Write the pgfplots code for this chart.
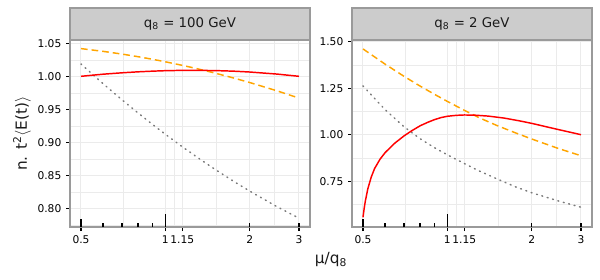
\documentclass[border=0pt]{standalone}
\usepackage{pgfplots}
\pgfplotsset{compat=1.18}
\usepackage{pgfplotstable}
\usepackage{fontspec}
\setmainfont{DejaVu Sans}
\definecolor{gridc}{HTML}{EBEBEB}
\definecolor{borderc}{HTML}{9A9A9A}
\definecolor{stripc}{HTML}{CCCCCC}
\definecolor{txtc}{HTML}{1A1A1A}
\definecolor{orangec}{HTML}{FFA500}
\definecolor{redc}{HTML}{FF0000}
\definecolor{grayc}{HTML}{7A7A7A}

\pgfplotstableread{
mu red orange gray
0.50 1.0000 1.0420 1.0186
0.60 1.0032 1.0378 0.9887
0.70 1.0053 1.0337 0.9645
0.80 1.0068 1.0297 0.9443
0.90 1.0078 1.0258 0.9271
1.00 1.0085 1.0220 0.9122
1.15 1.0090 1.0166 0.8932
1.30 1.0090 1.0115 0.8773
1.50 1.0087 1.0050 0.8594
1.75 1.0078 0.9975 0.8411
2.00 1.0065 0.9906 0.8261
2.50 1.0034 0.9781 0.8026
3.00 1.0000 0.9670 0.7850
}\leftdata

\pgfplotstableread{
mu orange gray
0.50 1.461 1.262
0.60 1.379 1.134
0.70 1.314 1.043
0.80 1.261 0.978
0.90 1.217 0.930
1.00 1.179 0.892
1.15 1.131 0.845
1.30 1.091 0.805
1.50 1.050 0.763
1.75 1.010 0.720
2.00 0.977 0.688
2.50 0.925 0.643
3.00 0.887 0.610
}\rightdata

\pgfplotstableread{
mu red
0.500 0.556
0.505 0.605
0.510 0.645
0.520 0.708
0.535 0.772
0.550 0.818
0.575 0.868
0.600 0.904
0.650 0.955
0.700 0.993
0.750 1.023
0.800 1.048
0.850 1.066
0.900 1.081
0.950 1.092
1.000 1.099
1.075 1.104
1.150 1.106
1.250 1.105
1.400 1.100
1.600 1.089
1.800 1.075
2.000 1.061
2.250 1.043
2.500 1.027
2.750 1.013
3.000 1.000
}\rightred

\newcommand{\rugtick}[3]{%
  \draw[black,line width=1.1pt] (axis cs:#1,#2) -- ([yshift=#3]axis cs:#1,#2);
}
\newcommand{\rug}[1]{%
  \rugtick{0.5}{#1}{6.3pt}
  \rugtick{1}{#1}{9.5pt}
  \rugtick{0.6}{#1}{3.2pt}
  \rugtick{0.7}{#1}{3.2pt}
  \rugtick{0.8}{#1}{3.2pt}
  \rugtick{0.9}{#1}{3.2pt}
  \rugtick{2}{#1}{3.2pt}
  \rugtick{3}{#1}{3.2pt}
}

\pgfplotsset{
  redline/.style={redc, line width=1.1pt},
  orangeline/.style={orangec, line width=1.1pt, dash pattern=on 5pt off 3pt},
  grayline/.style={grayc, line width=1.1pt, dash pattern=on 0.7pt off 3.5pt, line cap=round},
}

\begin{document}
\begin{tikzpicture}
\path[use as bounding box] (0,0) rectangle (450pt,209.25pt);
\begin{axis}[xmode=log, scale only axis, width=180pt, height=140.25pt,
  at={(52.5pt,39pt)}, anchor=south west,
  xmin=0.4568, xmax=3.284,
  xtick={0.5,1,1.15,2,3}, xticklabels={0.5,1,1.15,2,3},
  minor xtick={0.7071,1.0724,1.5166,2.4495},
  xtick pos=bottom, ytick pos=left,
  grid=both,
  major grid style={gridc, line width=0.75pt},
  minor grid style={gridc, line width=0.4pt},
  axis line style={borderc, line width=1pt},
  tick align=outside, major tick length=3pt, minor tick length=0pt,
  major tick style={black, line width=0.9pt},
  ticklabel style={font=\fontsize{8}{9}\selectfont, text=black},
  /pgf/number format/assume math mode=true,
  yticklabel style={/pgf/number format/fixed, /pgf/number format/fixed zerofill, /pgf/number format/precision=2},
  label style={font=\fontsize{11.5}{13}\selectfont, text=txtc},
  ymin=0.7717, ymax=1.055,
  ytick={0.80,0.85,0.90,0.95,1.00,1.05},
  minor ytick={0.775,0.825,0.875,0.925,0.975,1.025},
  ylabel={n. t\textsuperscript{2}$\langle$E(t)$\rangle$},
  ylabel style={at={(axis description cs:-0.2,0.5)}, anchor=center},
  after end axis/.code={
    \draw[fill=stripc, draw=borderc, line width=1pt] (axis description cs:0,1) rectangle ([yshift=24pt]axis description cs:1,1);
    \node[font=\fontsize{10}{12}\selectfont, text=txtc] at ([yshift=12pt]axis description cs:0.5,1) {q\textsubscript{8} = 100 GeV};
  }]
\addplot[grayline] table[x=mu,y=gray]{\leftdata};
\addplot[orangeline] table[x=mu,y=orange]{\leftdata};
\addplot[redline] table[x=mu,y=red]{\leftdata};
\rug{0.7717}
\end{axis}
\begin{axis}[xmode=log, scale only axis, width=180pt, height=140.25pt,
  at={(264pt,39pt)}, anchor=south west,
  xmin=0.4568, xmax=3.284,
  xtick={0.5,1,1.15,2,3}, xticklabels={0.5,1,1.15,2,3},
  minor xtick={0.7071,1.0724,1.5166,2.4495},
  xtick pos=bottom, ytick pos=left,
  grid=both,
  major grid style={gridc, line width=0.75pt},
  minor grid style={gridc, line width=0.4pt},
  axis line style={borderc, line width=1pt},
  tick align=outside, major tick length=3pt, minor tick length=0pt,
  major tick style={black, line width=0.9pt},
  ticklabel style={font=\fontsize{8}{9}\selectfont, text=black},
  /pgf/number format/assume math mode=true,
  yticklabel style={/pgf/number format/fixed, /pgf/number format/fixed zerofill, /pgf/number format/precision=2},
  label style={font=\fontsize{11.5}{13}\selectfont, text=txtc},
  ymin=0.5038, ymax=1.509,
  ytick={0.75,1.00,1.25,1.50},
  minor ytick={0.625,0.875,1.125,1.375},
  xlabel={μ/q\textsubscript{8}},
  xlabel style={at={(axis description cs:-0.0875,-0.176)}, anchor=center},
  after end axis/.code={
    \draw[fill=stripc, draw=borderc, line width=1pt] (axis description cs:0,1) rectangle ([yshift=24pt]axis description cs:1,1);
    \node[font=\fontsize{10}{12}\selectfont, text=txtc] at ([yshift=12pt]axis description cs:0.5,1) {q\textsubscript{8} = 2 GeV};
  }]
\addplot[grayline] table[x=mu,y=gray]{\rightdata};
\addplot[orangeline] table[x=mu,y=orange]{\rightdata};
\addplot[redline] table[x=mu,y=red]{\rightred};
\rug{0.5038}
\end{axis}
\end{tikzpicture}
\end{document}
